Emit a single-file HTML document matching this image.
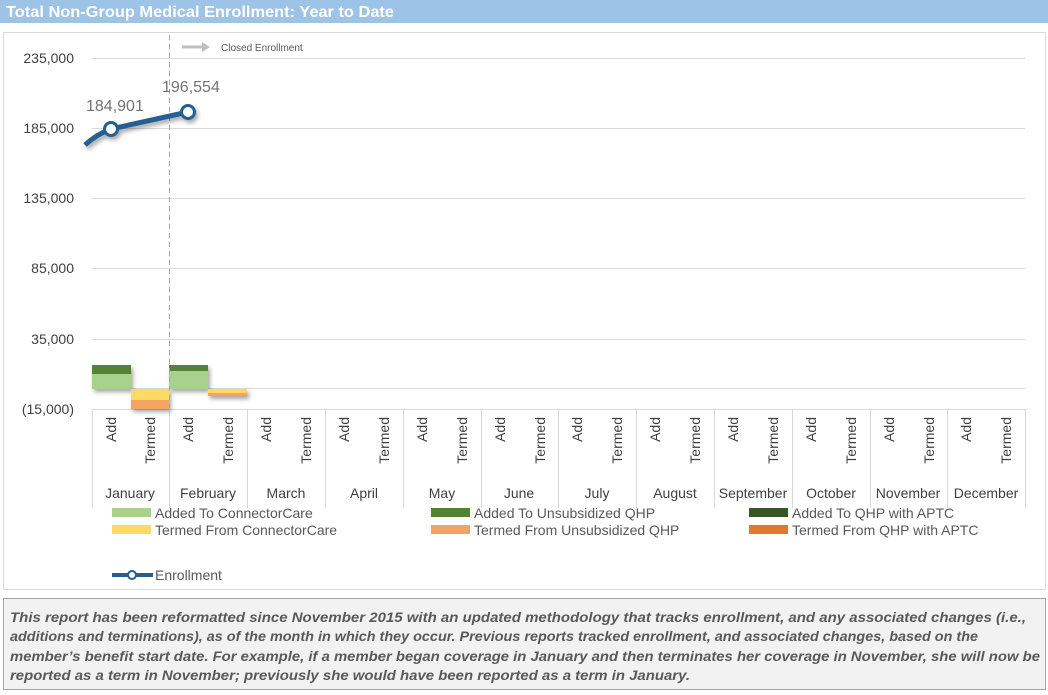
<!DOCTYPE html>
<html><head><meta charset="utf-8"><style>
body{margin:0;background:#fff;}
svg{display:block;font-family:"Liberation Sans",sans-serif;}
</style></head><body>
<svg width="1048" height="695" viewBox="0 0 1048 695" xmlns="http://www.w3.org/2000/svg">
<defs><filter id="sh" x="-20%" y="-20%" width="150%" height="150%"><feDropShadow dx="2" dy="3" stdDeviation="2" flood-color="#000" flood-opacity="0.35"/></filter></defs>
<rect x="0" y="0" width="1048" height="23" fill="#9dc3e6"/>
<text x="6" y="17" font-size="16" font-weight="bold" fill="#fff" textLength="388" lengthAdjust="spacingAndGlyphs">Total Non-Group Medical Enrollment: Year to Date</text>
<rect x="3.5" y="32.5" width="1042" height="557" fill="#fff" stroke="#d9d9d9"/>
<g stroke="#d9d9d9" stroke-width="1">
<line x1="92" y1="58.5" x2="1025" y2="58.5"/><line x1="92" y1="128.5" x2="1025" y2="128.5"/><line x1="92" y1="198.5" x2="1025" y2="198.5"/><line x1="92" y1="268.5" x2="1025" y2="268.5"/><line x1="92" y1="339.5" x2="1025" y2="339.5"/><line x1="92" y1="388.5" x2="1025" y2="388.5"/>
<line x1="92.5" y1="409" x2="92.5" y2="508"/>
<line x1="169.5" y1="409" x2="169.5" y2="508"/><line x1="247.5" y1="409" x2="247.5" y2="508"/><line x1="325.5" y1="409" x2="325.5" y2="508"/><line x1="403.5" y1="409" x2="403.5" y2="508"/><line x1="481.5" y1="409" x2="481.5" y2="508"/><line x1="558.5" y1="409" x2="558.5" y2="508"/><line x1="636.5" y1="409" x2="636.5" y2="508"/><line x1="714.5" y1="409" x2="714.5" y2="508"/><line x1="792.5" y1="409" x2="792.5" y2="508"/><line x1="870.5" y1="409" x2="870.5" y2="508"/><line x1="947.5" y1="409" x2="947.5" y2="508"/><line x1="1025.5" y1="409" x2="1025.5" y2="508"/>
<line x1="92" y1="409.5" x2="1025" y2="409.5"/>
</g>
<g font-size="14" fill="#404040" text-anchor="end">
<text x="74" y="63">235,000</text><text x="74" y="133">185,000</text><text x="74" y="203">135,000</text><text x="74" y="273">85,000</text><text x="74" y="344">35,000</text><text x="74" y="414">(15,000)</text>
</g>
<!-- bars -->
<g filter="url(#sh)">
<rect x="92" y="374" width="39" height="15" fill="#a9d18e"/><rect x="92" y="365" width="39" height="9" fill="#548235"/>
<rect x="131" y="389" width="38" height="11" fill="#ffd966"/><rect x="131" y="400" width="38" height="9" fill="#f4a460"/>
<rect x="169" y="371" width="39" height="18" fill="#a9d18e"/><rect x="169" y="365" width="39" height="6" fill="#548235"/>
<rect x="208" y="389" width="39" height="4" fill="#ffd966"/><rect x="208" y="393" width="39" height="3" fill="#f4a460"/>
</g>
<line x1="169.5" y1="35" x2="169.5" y2="408" stroke="#a6a6a6" stroke-dasharray="5,4"/>
<line x1="182" y1="47" x2="202" y2="47" stroke="#bfbfbf" stroke-width="3"/><polygon points="202,42 210,47 202,52" fill="#bfbfbf"/>
<text x="221" y="51" font-size="10" fill="#595959">Closed Enrollment</text>
<!-- line -->
<g filter="url(#sh)">
<path d="M85,145 Q97,134 111,129 L188,112" fill="none" stroke="#255e91" stroke-width="5"/>
<circle cx="111" cy="129" r="6.5" fill="#fff" stroke="#255e91" stroke-width="3"/>
<circle cx="188" cy="112" r="6.5" fill="#fff" stroke="#255e91" stroke-width="3"/>
</g>
<text x="86" y="111" font-size="16" fill="#737373">184,901</text>
<text x="162" y="92" font-size="16" fill="#737373">196,554</text>
<!-- category labels -->
<g font-size="14" fill="#404040">
<g text-anchor="end">
<text transform="translate(116,417) rotate(-90)">Add</text><text transform="translate(155,417) rotate(-90)">Termed</text>
<text transform="translate(193,417) rotate(-90)">Add</text><text transform="translate(233,417) rotate(-90)">Termed</text>
<text transform="translate(271,417) rotate(-90)">Add</text><text transform="translate(311,417) rotate(-90)">Termed</text>
<text transform="translate(349,417) rotate(-90)">Add</text><text transform="translate(389,417) rotate(-90)">Termed</text>
<text transform="translate(427,417) rotate(-90)">Add</text><text transform="translate(467,417) rotate(-90)">Termed</text>
<text transform="translate(505,417) rotate(-90)">Add</text><text transform="translate(545,417) rotate(-90)">Termed</text>
<text transform="translate(582,417) rotate(-90)">Add</text><text transform="translate(622,417) rotate(-90)">Termed</text>
<text transform="translate(660,417) rotate(-90)">Add</text><text transform="translate(700,417) rotate(-90)">Termed</text>
<text transform="translate(738,417) rotate(-90)">Add</text><text transform="translate(778,417) rotate(-90)">Termed</text>
<text transform="translate(816,417) rotate(-90)">Add</text><text transform="translate(856,417) rotate(-90)">Termed</text>
<text transform="translate(894,417) rotate(-90)">Add</text><text transform="translate(934,417) rotate(-90)">Termed</text>
<text transform="translate(971,417) rotate(-90)">Add</text><text transform="translate(1011,417) rotate(-90)">Termed</text>
</g>
<g text-anchor="middle">
<text x="130" y="498">January</text><text x="208" y="498">February</text><text x="286" y="498">March</text><text x="364" y="498">April</text><text x="442" y="498">May</text><text x="519" y="498">June</text><text x="597" y="498">July</text><text x="675" y="498">August</text><text x="753" y="498">September</text><text x="831" y="498">October</text><text x="908" y="498">November</text><text x="986" y="498">December</text>
</g>
</g>
<!-- legend -->
<g font-size="14" fill="#595959">
<rect x="112" y="536" width="39" height="9" fill="#a9d18e" transform="translate(0,-28)"/><text x="155" y="518">Added To ConnectorCare</text>
<rect x="112" y="525" width="39" height="9" fill="#ffd966"/><text x="155" y="535">Termed From ConnectorCare</text>
<rect x="431" y="508" width="39" height="9" fill="#548235"/><text x="474" y="518">Added To Unsubsidized QHP</text>
<rect x="431" y="525" width="39" height="9" fill="#f4a460"/><text x="474" y="535">Termed From Unsubsidized QHP</text>
<rect x="749" y="508" width="39" height="9" fill="#375623"/><text x="792" y="518">Added To QHP with APTC</text>
<rect x="749" y="525" width="39" height="9" fill="#e2782e"/><text x="792" y="535">Termed From QHP with APTC</text>
<line x1="112" y1="575" x2="153" y2="575" stroke="#255e91" stroke-width="4"/><circle cx="132" cy="575" r="4" fill="#fff" stroke="#255e91" stroke-width="2"/>
<text x="155" y="580">Enrollment</text>
</g>
<!-- note -->
<rect x="3.5" y="598.5" width="1042" height="91" fill="#f2f2f2" stroke="#a6a6a6"/>
<g font-size="14" font-style="italic" fill="#595959" font-weight="bold">
<text x="10" y="622" textLength="1016" lengthAdjust="spacingAndGlyphs">This report has been reformatted since November 2015 with an updated methodology that tracks enrollment, and any associated changes (i.e.,</text>
<text x="10" y="641" textLength="968" lengthAdjust="spacingAndGlyphs">additions and terminations), as of the month in which they occur.  Previous reports tracked enrollment, and associated changes, based on the</text>
<text x="10" y="661" textLength="1030" lengthAdjust="spacingAndGlyphs">member’s benefit start date.  For example, if a member began coverage in January and then terminates her coverage in November, she will now be</text>
<text x="10" y="680" textLength="680" lengthAdjust="spacingAndGlyphs">reported as a term in November; previously she would have been reported as a term in January.</text>
</g>
</svg>
</body></html>
